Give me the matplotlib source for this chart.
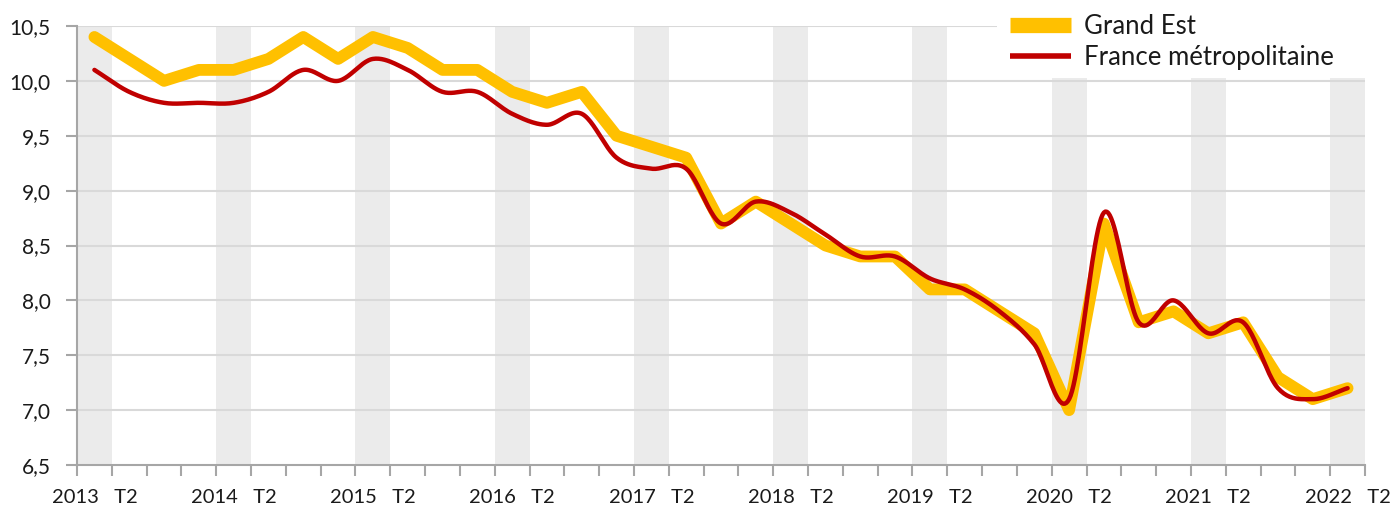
import numpy as np
import matplotlib
matplotlib.use("Agg")
import matplotlib.pyplot as plt
from matplotlib.patches import Rectangle
from matplotlib.ticker import FuncFormatter

#------------------------------------------------------------------------
#                               Data
#------------------------------------------------------------------------
years = list(range(2013, 2023))
quarters = [f"{y} T{q}" for y in years for q in range(1, 5)][:37]   # 2013 T1 .. 2022 T1

grand_est = [10.4, 10.2, 10.0, 10.1, 10.1, 10.2, 10.4, 10.2, 10.4, 10.3,
             10.1, 10.1, 9.9, 9.8, 9.9, 9.5, 9.4, 9.3, 8.7, 8.9,
             8.7, 8.5, 8.4, 8.4, 8.1, 8.1, 7.9, 7.7, 7.0, 8.7,
             7.8, 7.9, 7.7, 7.8, 7.3, 7.1, 7.2]

france_metro = [10.1, 9.9, 9.8, 9.8, 9.8, 9.9, 10.1, 10.0, 10.2, 10.1,
                9.9, 9.9, 9.7, 9.6, 9.7, 9.3, 9.2, 9.2, 8.7, 8.9,
                8.8, 8.6, 8.4, 8.4, 8.2, 8.1, 7.9, 7.6, 7.1, 8.8,
                7.8, 8.0, 7.7, 7.8, 7.2, 7.1, 7.2]

y_ticks = [6.5, 7.0, 7.5, 8.0, 8.5, 9.0, 9.5, 10.0, 10.5]

YELLOW = "#FFC000"
RED = "#C00000"
BAND = "#EBEBEB"
GRID = "#D9D9D9"
AXIS = "#A6A6A6"

plt.rcParams['font.family'] = ['Lato', 'DejaVu Sans']


#------------------------------------------------------------------------
#                   Smoothed curve (Catmull-Rom, like Excel)
#------------------------------------------------------------------------
def smooth(x, y, n=24):
    x = np.asarray(x, float)
    y = np.asarray(y, float)
    px = np.concatenate([[2 * x[0] - x[1]], x, [2 * x[-1] - x[-2]]])
    py = np.concatenate([[2 * y[0] - y[1]], y, [2 * y[-1] - y[-2]]])
    xs, ys = [], []
    t = np.linspace(0, 1, n, endpoint=False)
    for i in range(1, len(px) - 2):
        for p, out in ((px, xs), (py, ys)):
            p0, p1, p2, p3 = p[i - 1], p[i], p[i + 1], p[i + 2]
            out.extend(0.5 * ((2 * p1) + (-p0 + p2) * t
                              + (2 * p0 - 5 * p1 + 4 * p2 - p3) * t ** 2
                              + (-p0 + 3 * p1 - 3 * p2 + p3) * t ** 3))
    xs.append(x[-1])
    ys.append(y[-1])
    return np.array(xs), np.array(ys)


#------------------------------------------------------------------------
#                               Plot
#------------------------------------------------------------------------
fig = plt.figure(figsize=(13.94, 5.09), dpi=100)
ax = fig.add_axes([77 / 1394, 44 / 509, 1288 / 1394, 439 / 509])

x = np.arange(len(quarters))

# grey bands on first quarter of each year
for i, q in enumerate(quarters):
    if q.endswith("T1"):
        ax.axvspan(i - 0.5, i + 0.5, color=BAND, lw=0, zorder=0)

for v in y_ticks[1:]:
    ax.axhline(v, color=GRID, lw=1.5, zorder=1)

ax.plot(x, grand_est, color=YELLOW, lw=8.5, solid_capstyle="round",
        solid_joinstyle="round", zorder=3, label="Grand Est")
sx, sy = smooth(x, france_metro)
ax.plot(sx, sy, color=RED, lw=3.2, solid_capstyle="round",
        zorder=4, label="France métropolitaine")

ax.set_xlim(-0.5, len(quarters) - 0.5)
ax.set_ylim(6.5, 10.5)

# axes / ticks
for s in ("top", "right"):
    ax.spines[s].set_visible(False)
for s in ("left", "bottom"):
    ax.spines[s].set_color(AXIS)
    ax.spines[s].set_linewidth(1.5)

ax.set_yticks(y_ticks)
ax.yaxis.set_major_formatter(FuncFormatter(lambda v, p: f"{v:.1f}".replace(".", ",")))
ax.tick_params(axis="y", length=8, width=1.5, color=AXIS, pad=11,
               labelsize=15, labelcolor="#1a1a1a")

label_pos = [i for i, q in enumerate(quarters) if q.endswith("T1")]
ax.set_xticks(label_pos)
ax.set_xticklabels([quarters[i][:4] + "   T2" for i in label_pos])
ax.set_xticks(np.arange(len(quarters) + 1) - 0.5, minor=True)
ax.tick_params(axis="x", which="major", length=0, pad=17,
               labelsize=14.5, labelcolor="#1a1a1a")
ax.tick_params(axis="x", which="minor", length=8, width=1.5, color=AXIS)

# legend on a white block (covers the top-right of the grid)
ax.add_patch(Rectangle(((997 - 77) / 1288, (465 - 78) / 439), 0.4, 0.3,
                       transform=ax.transAxes, facecolor="white",
                       edgecolor="none", clip_on=False, zorder=5))
leg = ax.legend(loc="upper left", bbox_to_anchor=(992 / 1394, 1 + 4 / 509),
                bbox_transform=fig.transFigure, frameon=False,
                fontsize=18.5, handlelength=2.37, handletextpad=0.5,
                labelspacing=0.25, borderpad=0.2)
leg.set_zorder(6)
leg.legend_handles[0].set_linewidth(11)
leg.legend_handles[0].set_solid_capstyle("butt")
leg.legend_handles[1].set_linewidth(4)
leg.legend_handles[1].set_solid_capstyle("butt")
for t in leg.get_texts():
    t.set_color("#1a1a1a")

fig.savefig("out.png", dpi=100)
